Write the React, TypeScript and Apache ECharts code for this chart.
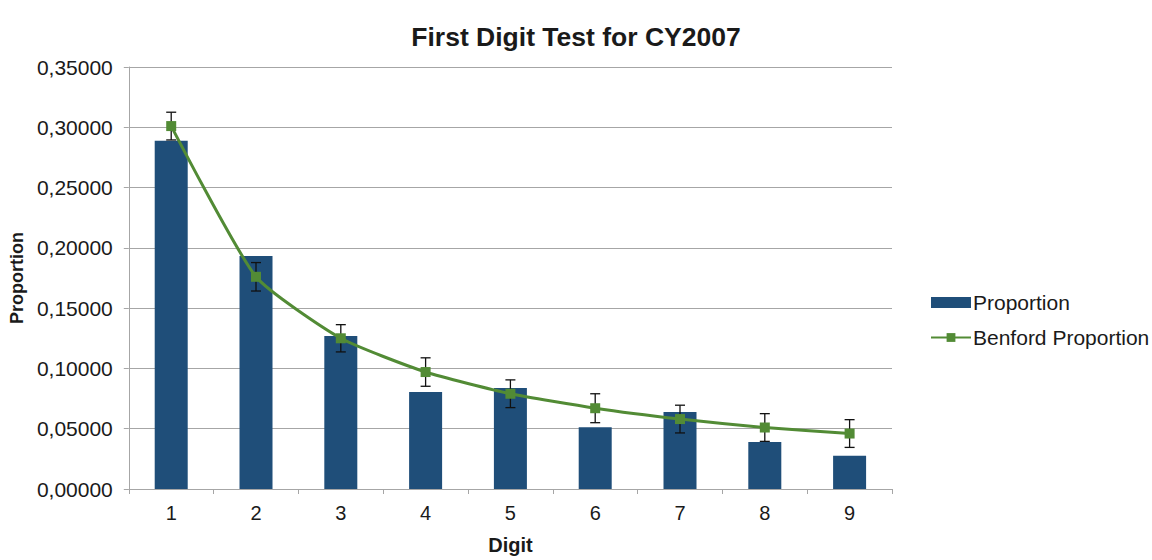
import React, { useEffect, useRef } from "react";
import * as echarts from "echarts";

const digits = ["1", "2", "3", "4", "5", "6", "7", "8", "9"];
const proportion = [0.2889, 0.1932, 0.1268, 0.0804, 0.0837, 0.0513, 0.0638, 0.039, 0.0275];
const benford = [0.301, 0.176, 0.125, 0.097, 0.079, 0.067, 0.058, 0.051, 0.046];
const errorMargin = [0.0115, 0.0118, 0.0113, 0.0118, 0.0115, 0.012, 0.0115, 0.0115, 0.0115];
const yTicks = { min: 0, max: 0.35, interval: 0.05 };

const FONT = "'Liberation Sans', Arial, sans-serif";
const BAR = "#1F4E79";
const GREEN = "#528B35";
const GRID = "#A6A6A6";

export default function App() {
  const ref = useRef<HTMLDivElement>(null);
  useEffect(() => {
    if (!ref.current) return;
    const chart = echarts.init(ref.current, undefined, { renderer: "svg" });
    const option: any = {
      animation: false,
      backgroundColor: "#fff",
      textStyle: { fontFamily: FONT, color: "#1a1a1a" },
      title: {
        text: "First Digit Test for CY2007",
        left: "center",
        top: 18,
        textStyle: { fontFamily: FONT, fontSize: 26.5, fontWeight: "bold", color: "#1a1a1a" },
      },
      legend: {
        orient: "vertical",
        left: 925,
        top: 287,
        itemWidth: 40,
        itemHeight: 11,
        itemGap: 14,
        data: [
          { name: "Proportion", icon: "rect" },
          { name: "Benford Proportion" },
        ],
        textStyle: { fontFamily: FONT, fontSize: 21, color: "#1a1a1a", padding: [0, 0, 0, -3] },
      },
      grid: { left: 128, right: 260, top: 67, bottom: 65, containLabel: false },
      xAxis: {
        type: "category",
        data: digits,
        boundaryGap: true,
        name: "Digit",
        nameLocation: "middle",
        nameGap: 46,
        nameTextStyle: { fontFamily: FONT, fontSize: 20, fontWeight: "bold", color: "#1a1a1a" },
        axisLine: { lineStyle: { color: GRID, width: 1 } },
        axisTick: { show: true, length: 5, alignWithLabel: false, lineStyle: { color: GRID } },
        axisLabel: { fontFamily: FONT, fontSize: 20, color: "#1a1a1a", margin: 14 },
        splitLine: { show: false },
      },
      yAxis: {
        type: "value",
        min: yTicks.min,
        max: yTicks.max,
        interval: yTicks.interval,
        name: "Proportion",
        nameLocation: "middle",
        nameRotate: 90,
        nameGap: 101,
        nameTextStyle: { fontFamily: FONT, fontSize: 18, fontWeight: "bold", color: "#1a1a1a" },
        axisLine: { show: true, lineStyle: { color: GRID, width: 1 } },
        axisTick: { show: true, length: 5, lineStyle: { color: GRID } },
        axisLabel: {
          fontFamily: FONT,
          fontSize: 21,
          color: "#1a1a1a",
          margin: 16,
          formatter: (v: number) => v.toFixed(5).replace(".", ","),
        },
        splitLine: { show: true, lineStyle: { color: GRID, width: 1 } },
      },
      series: [
        {
          name: "Proportion",
          type: "bar",
          data: proportion,
          barWidth: 33,
          itemStyle: { color: BAR },
          z: 2,
        },
        {
          name: "Benford Proportion",
          type: "line",
          data: benford,
          smooth: 0.18,
          symbol: "rect",
          symbolSize: 10,
          lineStyle: { color: GREEN, width: 3 },
          itemStyle: { color: GREEN },
          z: 4,
        },
        {
          name: "errors",
          type: "custom",
          z: 3,
          clip: false,
          data: digits.map((_, i) => [i, benford[i], errorMargin[i]]),
          renderItem: (params: any, api: any) => {
            const idx = api.value(0);
            const c = api.value(1);
            const e = api.value(2);
            const top = api.coord([idx, c + e]);
            const bot = api.coord([idx, c - e]);
            const x = top[0];
            const hw = 5;
            const style = { stroke: "#111", lineWidth: 1.3 };
            return {
              type: "group",
              children: [
                { type: "line", shape: { x1: x, y1: top[1], x2: x, y2: bot[1] }, style },
                { type: "line", shape: { x1: x - hw, y1: top[1], x2: x + hw, y2: top[1] }, style },
                { type: "line", shape: { x1: x - hw, y1: bot[1], x2: x + hw, y2: bot[1] }, style },
              ],
            };
          },
        },
      ],
    };
    chart.setOption(option);
    return () => chart.dispose();
  }, []);
  return (
    <div
      ref={ref}
      style={{ position: "fixed", left: 0, top: 0, width: 1152, height: 560 }}
    />
  );
}
